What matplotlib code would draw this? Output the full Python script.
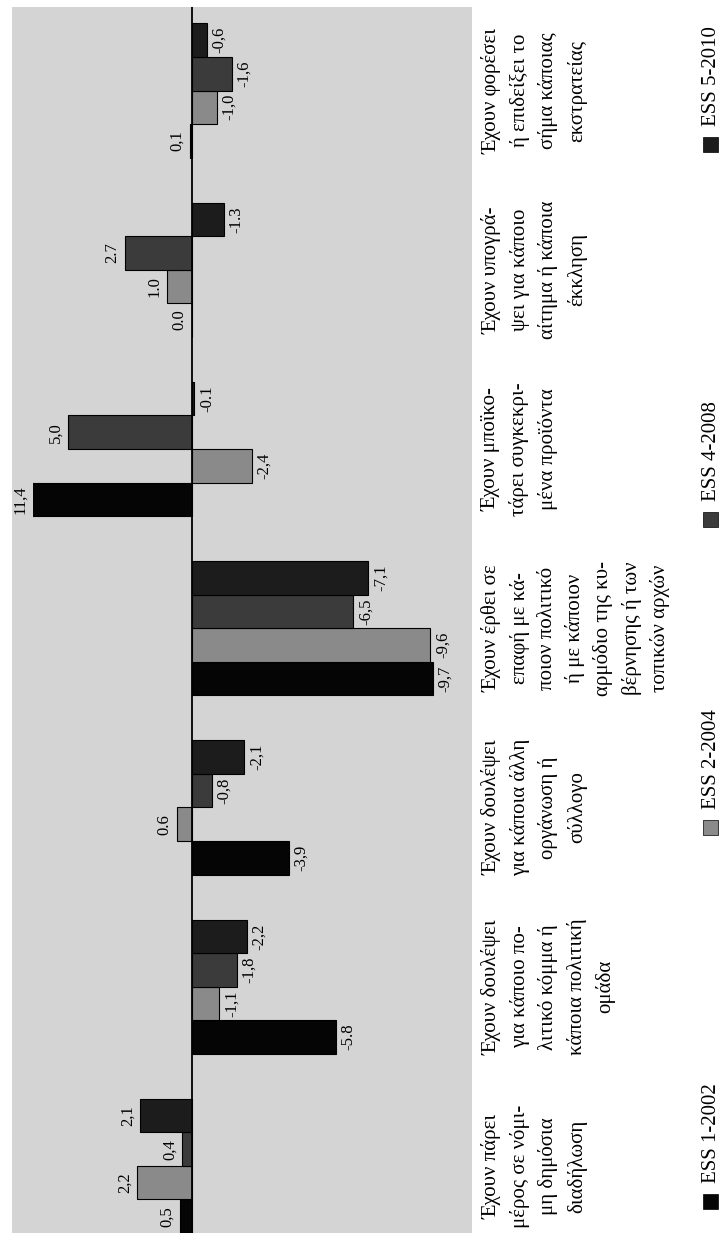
import matplotlib
matplotlib.use("Agg")
import matplotlib.pyplot as plt
from matplotlib.patches import Rectangle
import matplotlib.transforms as mtransforms

plt.rcParams['font.family'] = ['Liberation Serif', 'DejaVu Serif']

# ---------------- data ----------------
categories = [
    "Έχουν πάρει\nμέρος σε νόμι-\nμη δημόσια\nδιαδήλωση",
    "Έχουν δουλέψει\nγια κάποιο πο-\nλιτικό κόμμα ή\nκάποια πολιτική\nομάδα",
    "Έχουν δουλέψει\nγια κάποια άλλη\nοργάνωση ή\nσύλλογο",
    "Έχουν έρθει σε\nεπαφή με κά-\nποιον πολιτικό\nή με κάποιον\nαρμόδιο της κυ-\nβέρνησης ή των\nτοπικών αρχών",
    "Έχουν μποϊκο-\nτάρει συγκεκρι-\nμένα προϊόντα",
    "Έχουν υπογρά-\nψει για κάποιο\nαίτημα ή κάποια\nέκκληση",
    "Έχουν φορέσει\nή επιδείξει το\nσήμα κάποιας\nεκστρατείας",
]
series_names = ["ESS 1-2002", "ESS 2-2004", "ESS 4-2008", "ESS 5-2010"]
ess1 = [0.5, -5.8, -3.9, -9.7, 11.4, 0.0, 0.1]
ess2 = [2.2, -1.1, 0.6, -9.6, -2.4, 1.0, -1.0]
ess4 = [0.4, -1.8, -0.8, -6.5, 5.0, 2.7, -1.6]
ess5 = [2.1, -2.2, -2.1, -7.1, -0.1, -1.3, -0.6]
lab1 = ["0,5", "-5.8", "-3,9", "-9,7", "11,4", "0.0", "0,1"]
lab2 = ["2,2", "-1,1", "0.6", "-9,6", "-2,4", "1.0", "-1,0"]
lab4 = ["0,4", "-1,8", "-0,8", "-6,5", "5,0", "2.7", "-1,6"]
lab5 = ["2,1", "-2,2", "-2,1", "-7,1", "-0.1", "-1.3", "-0,6"]

series = [ess1, ess2, ess4, ess5]
labels = [lab1, lab2, lab4, lab5]
colors = ["#050505", "#8a8a8a", "#3b3b3b", "#1c1c1c"]

# ---------------- layout ----------------
W, H = 723, 1233
fig = plt.figure(figsize=(W / 100, H / 100), dpi=100)
fig.patch.set_facecolor("white")

def fx(px):
    return px / W

def fy(py):
    return 1 - py / H

# gray plotting field (behind the axes)
bg = Rectangle((fx(12), fy(1233)), fx(472) - fx(12), fy(7) - fy(1233),
               transform=fig.transFigure, facecolor="#d4d4d4",
               edgecolor="none", zorder=-10)
fig.patches.append(bg)

ax = fig.add_axes([fx(33), fy(1233), fx(472) - fx(33), fy(7) - fy(1233)])
ax.set_zorder(1)
ax.patch.set_alpha(0)
XLIM = (6.41, -11.29)
ax.set_xlim(*XLIM)
ax.set_ylim(-0.374, 6.466)
for s in ax.spines.values():
    s.set_visible(False)
ax.set_xticks([])
ax.set_yticks([])

bh = 0.187
offsets = [-1.5, -0.5, 0.5, 1.5]
ypos = list(range(len(categories)))

for vals, labs, col, off in zip(series, labels, colors, offsets):
    ys = [y + off * bh for y in ypos]
    ax.barh(ys, vals, height=bh, color=col, edgecolor="black", linewidth=0.8, zorder=2)
    for y, v, t in zip(ys, vals, labs):
        xa = min(v, XLIM[0])
        dx = -9 if v >= 0 else 9
        ax.annotate(t, (xa, y), xytext=(dx, 0), textcoords="offset points",
                    rotation=90, ha="center", va="center", fontsize=12,
                    annotation_clip=False, zorder=3)

ax.axvline(0, color="black", linewidth=1.3, zorder=4)

# category labels (rotated)
trans = mtransforms.blended_transform_factory(fig.transFigure, ax.transData)
for y, c in zip(ypos, categories):
    ax.text(fx(482), y, c, transform=trans, rotation=90, ha="left", va="center",
            multialignment="center", fontsize=15, linespacing=1.55, clip_on=False)

# legend (rotated, manual)
sq_centers = [1201, 827, 519, 144]
for name, col, yc in zip(series_names, colors, sq_centers):
    fig.patches.append(Rectangle((fx(703), fy(yc + 7.5)), fx(15), 15 / H,
                                 transform=fig.transFigure, facecolor=col,
                                 edgecolor="black", linewidth=0.5, zorder=5))
    fig.text(fx(711), fy(yc - 18), name, rotation=90, ha="center", va="bottom",
             fontsize=15)

fig.savefig("out.png", dpi=100)
